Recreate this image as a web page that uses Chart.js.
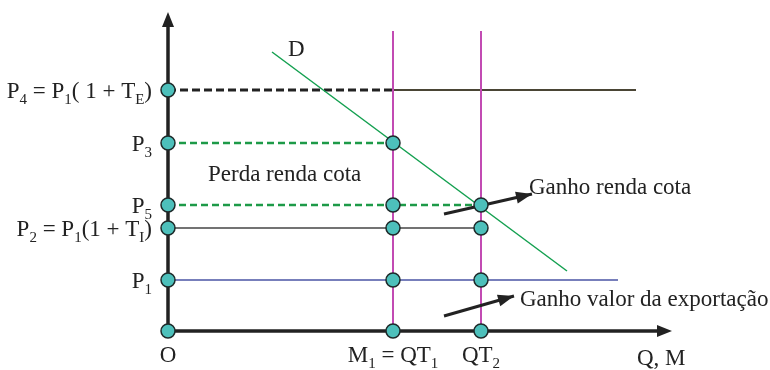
<!DOCTYPE html>
<html><head><meta charset="utf-8">
<script src="https://cdn.jsdelivr.net/npm/chart.js@4"></script>
<style>html,body{margin:0;padding:0;background:#fff}canvas{display:block}</style>
</head><body>
<canvas id="c" width="770" height="370"></canvas>
<script>
// Price levels (vertical axis) and their labels
const priceLabels = ['O', 'P_1', 'P_2 = P_1(1 + T_I)', 'P_5', 'P_3', 'P_4 = P_1( 1 + T_E)'];
const priceValues = [0, 51, 103, 126, 188, 241];
// Quantity levels (horizontal axis) and their labels
const quantityLabels = ['O', 'M_1 = QT_1', 'QT_2'];
const quantityValues = [0, 225, 313];
// Demand curve D end points
const demandX = [104, 399];
const demandY = [279, 60];
// Line extents
const p4DashedEnd = 225, p4SolidEnd = 468, p1LineEnd = 450, verticalTop = 300;
const axisXEnd = 504, axisYEnd = 319;
// Annotation arrows [x0,y0,x1,y1]
const arrowRenda = [276, 117, 364, 137];
const arrowExport = [276, 15, 346, 35];
// Free text annotations
const noteTexts = ['D', 'Perda renda cota', 'Ganho renda cota', 'Ganho valor da exportação', 'Q, M'];
const noteX = [120, 40, 361, 352, 469];
const noteY = [283, 158, 145, 33, -26];

const [O, P1, P2, P5, P3, P4] = priceValues;
const [Q0, M1, QT2] = quantityValues;

const markerPts = [
  {x:0,y:P4},{x:0,y:P3},{x:0,y:P5},{x:0,y:P2},{x:0,y:P1},{x:0,y:O},
  {x:M1,y:P3},{x:M1,y:P5},{x:M1,y:P2},{x:M1,y:P1},{x:M1,y:O},
  {x:QT2,y:P5},{x:QT2,y:P2},{x:QT2,y:P1},{x:QT2,y:O}
];

function seg(data, color, width, dash) {
  return {type:'line', data, borderColor:color, borderWidth:width, borderDash:dash||[],
    pointRadius:0, fill:false, tension:0, clip:false, showLine:true};
}

const SERIF = '"Liberation Serif", "Times New Roman", serif';
const BIG = 23, SMALL = 15, SUBOFF = 6;
function parseRich(s){
  const out=[]; let buf='';
  for(let i=0;i<s.length;i++){
    if(s[i]==='_' && i+1<s.length){ if(buf){out.push([buf,0]);buf='';} out.push([s[i+1],1]); i++; }
    else buf+=s[i];
  }
  if(buf) out.push([buf,0]);
  return out;
}
function richWidth(ctx, parts){
  let w=0; for(const [t,sub] of parts){ ctx.font=(sub?SMALL:BIG)+'px '+SERIF; w+=ctx.measureText(t).width; } return w;
}
function drawRich(ctx, s, x, yMid, align){
  const parts=parseRich(s); const w=richWidth(ctx,parts);
  let cx = align==='right'? x-w : align==='center'? x-w/2 : x;
  const base = yMid + 8;
  ctx.textBaseline='alphabetic'; ctx.textAlign='left';
  for(const [t,sub] of parts){
    ctx.font=(sub?SMALL:BIG)+'px '+SERIF;
    ctx.fillText(t, cx, base + (sub?SUBOFF:0));
    cx += ctx.measureText(t).width;
  }
}
function arrowHead(ctx, x0,y0,x1,y1, len, half, color){
  const a=Math.atan2(y1-y0,x1-x0);
  ctx.save(); ctx.fillStyle=color; ctx.beginPath();
  ctx.moveTo(x1,y1);
  ctx.lineTo(x1-len*Math.cos(a)+half*Math.sin(a), y1-len*Math.sin(a)-half*Math.cos(a));
  ctx.lineTo(x1-len*Math.cos(a)-half*Math.sin(a), y1-len*Math.sin(a)+half*Math.cos(a));
  ctx.closePath(); ctx.fill(); ctx.restore();
}

const annot = {
  id:'annot',
  afterDatasetsDraw(chart){
    const ctx=chart.ctx, xs=chart.scales.x, ys=chart.scales.y;
    const X=v=>xs.getPixelForValue(v), Y=v=>ys.getPixelForValue(v);
    arrowHead(ctx, X(0),Y(0), X(axisXEnd),Y(0), 15, 6, '#222');
    arrowHead(ctx, X(0),Y(0), X(0),Y(axisYEnd), 15, 6, '#222');
    for(const a of [arrowRenda, arrowExport]){
      arrowHead(ctx, X(a[0]),Y(a[1]), X(a[2]),Y(a[3]), 16, 6, '#222');
    }
    ctx.save(); ctx.fillStyle='#222';
    for(let i=1;i<priceLabels.length;i++) drawRich(ctx, priceLabels[i], X(0)-16, Y(priceValues[i]), 'right');
    for(let i=0;i<quantityLabels.length;i++) drawRich(ctx, quantityLabels[i], X(quantityValues[i]), Y(-23), 'center');
    for(let i=0;i<noteTexts.length;i++) drawRich(ctx, noteTexts[i], X(noteX[i]), Y(noteY[i]), 'left');
    ctx.restore();
  }
};

new Chart(document.getElementById('c'), {
  type:'scatter',
  data:{datasets:[
    {type:'scatter', data:markerPts, pointRadius:7, pointHoverRadius:7, pointBackgroundColor:'#4dc0bb',
      pointBorderColor:'#1e2a2a', pointBorderWidth:1.5, showLine:false, clip:false},
    seg([{x:0,y:0},{x:0,y:axisYEnd-8}], '#222', 3.5),
    seg([{x:0,y:0},{x:axisXEnd-8,y:0}], '#222', 3.5),
    seg([{x:arrowRenda[0],y:arrowRenda[1]},{x:arrowRenda[2],y:arrowRenda[3]}], '#222', 3),
    seg([{x:arrowExport[0],y:arrowExport[1]},{x:arrowExport[2],y:arrowExport[3]}], '#222', 3),
    seg([{x:M1,y:0},{x:M1,y:verticalTop}], '#c24bb3', 2),
    seg([{x:QT2,y:0},{x:QT2,y:verticalTop}], '#c24bb3', 2),
    seg([{x:demandX[0],y:demandY[0]},{x:demandX[1],y:demandY[1]}], '#14a050', 1.5),
    seg([{x:0,y:P4},{x:p4DashedEnd,y:P4}], '#222', 3, [8,4]),
    seg([{x:p4DashedEnd,y:P4},{x:p4SolidEnd,y:P4}], '#4a4535', 2),
    seg([{x:0,y:P3},{x:M1,y:P3}], '#1d9a48', 2.5, [7,4]),
    seg([{x:0,y:P5},{x:QT2,y:P5}], '#1d9a48', 2.5, [7,4]),
    seg([{x:0,y:P2},{x:QT2,y:P2}], '#444', 1.5),
    seg([{x:0,y:P1},{x:p1LineEnd,y:P1}], '#4a55a5', 1.5)
  ]},
  options:{
    responsive:false, animation:false, events:[],
    layout:{autoPadding:false, padding:{left:168,right:0,top:0,bottom:39}},
    plugins:{legend:{display:false}, tooltip:{enabled:false}},
    scales:{
      x:{type:'linear', min:0, max:602, display:false},
      y:{type:'linear', min:0, max:331, display:false}
    }
  },
  plugins:[annot]
});
</script>
</body></html>
